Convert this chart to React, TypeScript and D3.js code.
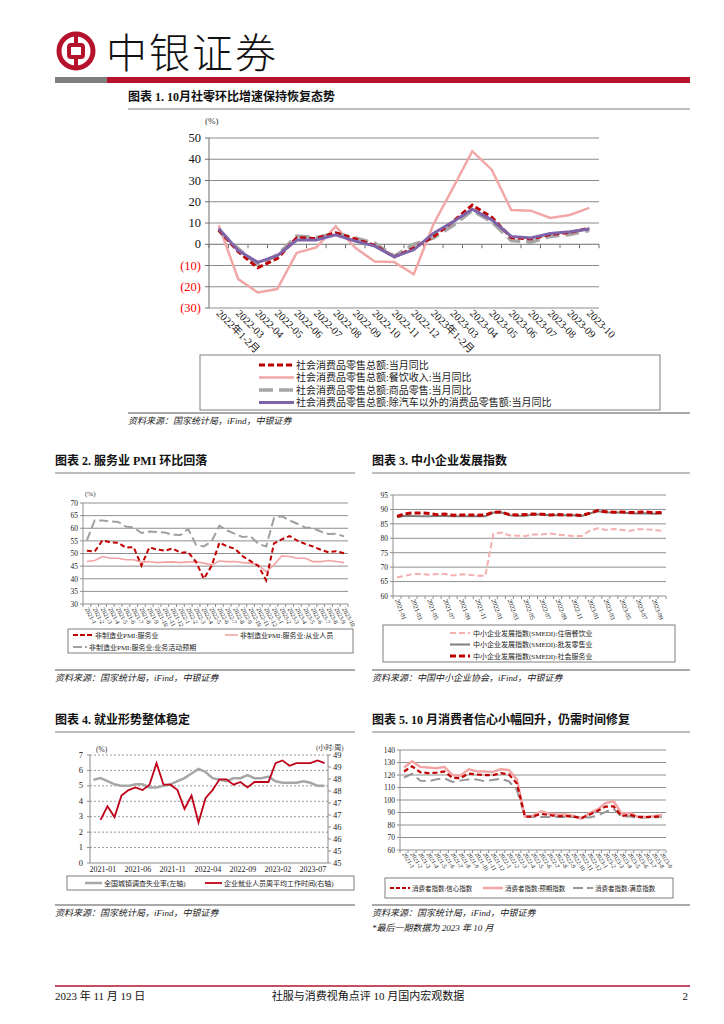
import React from 'react';
import * as d3 from 'd3';

const SERIF = "'Liberation Serif','Noto Sans CJK SC',serif";
const CJK = "'Liberation Serif','Noto Sans CJK SC',serif";
const RED = '#C00000';
const BRAND = '#B5122B';

// ---------- Chart 1 ----------
const c1Cats = ['2022年1-2月', '2022-03', '2022-04', '2022-05', '2022-06', '2022-07', '2022-08', '2022-09', '2022-10', '2022-11', '2022-12', '2023年1-2月', '2023-03', '2023-04', '2023-05', '2023-06', '2023-07', '2023-08', '2023-09', '2023-10'];
const c1Total = [6.7, -3.5, -11.1, -6.7, 3.1, 2.7, 5.4, 2.5, -0.5, -5.9, -1.8, 3.5, 10.6, 18.4, 12.7, 3.1, 2.5, 4.6, 5.5, 7.6];
const c1Catering = [8.9, -16.4, -22.7, -21.1, -4.0, -1.5, 8.4, -1.7, -8.1, -8.4, -14.1, 9.2, 26.3, 43.8, 35.1, 16.1, 15.8, 12.4, 13.8, 17.1];
const c1Goods = [6.5, -2.1, -9.7, -5.0, 3.9, 3.2, 5.1, 3.0, 0.5, -5.6, -0.1, 2.9, 8.7, 15.9, 10.5, 1.7, 1.0, 3.7, 4.6, 6.5];
const c1ExAuto = [7.4, -3.0, -8.5, -5.4, 2.0, 2.0, 4.4, 1.5, -0.9, -5.9, -2.6, 5.1, 10.5, 16.5, 11.5, 3.7, 3.0, 5.1, 5.9, 7.2];
const c1YTicks = [50, 40, 30, 20, 10, 0, -10, -20, -30];
const c1Legend = ['社会消费品零售总额:当月同比', '社会消费品零售总额:餐饮收入:当月同比', '社会消费品零售总额:商品零售:当月同比', '社会消费品零售总额:除汽车以外的消费品零售额:当月同比'];

// ---------- Chart 2 ----------
const c2Months = ['2021-1', '2021-2', '2021-3', '2021-4', '2021-5', '2021-6', '2021-7', '2021-8', '2021-9', '2021-10', '2021-11', '2021-12', '2022-1', '2022-2', '2022-3', '2022-4', '2022-5', '2022-6', '2022-7', '2022-8', '2022-9', '2022-10', '2022-11', '2022-12', '2023-1', '2023-2', '2023-3', '2023-4', '2023-5', '2023-6', '2023-7', '2023-8', '2023-9', '2023-10'];
const c2Services = [51.1, 50.8, 55.2, 54.4, 54.3, 52.3, 52.5, 45.2, 52.4, 51.6, 51.1, 52.0, 50.3, 50.5, 46.7, 40.0, 45.1, 54.3, 52.8, 51.9, 48.9, 47.0, 45.1, 39.4, 54.0, 55.6, 56.9, 55.1, 53.8, 52.8, 51.5, 50.5, 50.9, 50.1];
const c2Employ = [46.8, 47.2, 48.8, 48.1, 48.1, 47.5, 47.5, 46.6, 46.8, 46.4, 46.6, 46.7, 46.4, 46.7, 46.7, 46.2, 45.5, 47.0, 46.8, 46.8, 46.4, 46.2, 45.5, 42.8, 45.5, 49.0, 48.8, 48.1, 48.1, 46.8, 46.8, 47.2, 46.8, 46.4];
const c2Expect = [55.2, 63.1, 63.1, 62.7, 62.5, 60.7, 60.3, 58.1, 58.7, 58.5, 58.3, 57.4, 57.3, 59.7, 53.4, 52.8, 54.8, 61.0, 59.1, 57.8, 56.5, 56.8, 53.8, 52.8, 64.0, 64.7, 63.1, 61.8, 60.3, 60.1, 58.7, 57.7, 57.8, 56.8];
const c2YTicks = [30, 35, 40, 45, 50, 55, 60, 65, 70];

// ---------- Chart 3 ----------
const c3Months = ['2021-01', '2021-02', '2021-03', '2021-04', '2021-05', '2021-06', '2021-07', '2021-08', '2021-09', '2021-10', '2021-11', '2021-12', '2022-01', '2022-02', '2022-03', '2022-04', '2022-05', '2022-06', '2022-07', '2022-08', '2022-09', '2022-10', '2022-11', '2022-12', '2023-01', '2023-02', '2023-03', '2023-04', '2023-05', '2023-06', '2023-07', '2023-08', '2023-09', '2023-10'];
const c3Hotel = [66.5, 67, 67.6, 67.6, 67.4, 67.6, 67.6, 67.1, 67.5, 67.4, 67, 67, 81.5, 82, 81, 80.9, 80.8, 81.3, 81.3, 81.7, 81.3, 81, 80.8, 80.8, 82.6, 83.5, 82.9, 83.2, 82.9, 82.6, 83.1, 83.1, 82.9, 82.6];
const c3Wholesale = [87.3, 87.8, 87.7, 87.6, 87.6, 87.7, 87.7, 87.6, 87.6, 87.6, 87.6, 87.6, 88.9, 89.0, 88.0, 87.8, 87.8, 88.2, 88.2, 88.0, 88.0, 88.0, 88.0, 87.7, 88.6, 89.4, 89.0, 88.9, 88.9, 88.7, 88.6, 88.7, 88.5, 88.6];
const c3Social = [87.6, 88.5, 88.8, 88.8, 88.6, 88.2, 88.4, 88.0, 88.1, 88.1, 88.0, 88.1, 89.0, 89.1, 88.2, 88.1, 88.2, 88.4, 88.3, 88.1, 88.2, 88.1, 88.1, 87.9, 88.7, 89.6, 89.2, 89.0, 89.1, 88.9, 89.0, 89.1, 88.8, 88.9];
const c3YTicks = [60, 65, 70, 75, 80, 85, 90, 95];
const c3Legend = ['中小企业发展指数(SMEDI):住宿餐饮业', '中小企业发展指数(SMEDI):批发零售业', '中小企业发展指数(SMEDI):社会服务业'];

// ---------- Chart 4 ----------
const c4Months = c3Months;
const c4Unemp = [5.4, 5.5, 5.3, 5.1, 5.0, 5.0, 5.1, 5.1, 4.9, 4.9, 5.0, 5.1, 5.3, 5.5, 5.8, 6.1, 5.9, 5.5, 5.4, 5.3, 5.5, 5.5, 5.7, 5.5, 5.5, 5.6, 5.3, 5.2, 5.2, 5.2, 5.3, 5.2, 5.0, 5.0];
const c4Hours: (number | null)[] = [null, 46.6, 47.1, 46.7, 47.5, 47.7, 47.8, 47.7, 47.9, 48.7, 47.9, 47.9, 47.7, 47.0, 47.5, 46.5, 47.4, 47.7, 48.1, 48.1, 47.9, 48.0, 47.8, 48.0, 48.0, 48.0, 48.7, 48.8, 48.6, 48.7, 48.7, 48.7, 48.8, 48.7];
const c4LeftTicks = [0, 1, 2, 3, 4, 5, 6, 7];
const c4XLabels = ['2021-01', '2021-06', '2021-11', '2022-04', '2022-09', '2023-02', '2023-07'];

// ---------- Chart 5 ----------
const c5Months = ['2021-1', '2021-2', '2021-3', '2021-4', '2021-5', '2021-6', '2021-7', '2021-8', '2021-9', '2021-10', '2021-11', '2021-12', '2022-1', '2022-2', '2022-3', '2022-4', '2022-5', '2022-6', '2022-7', '2022-8', '2022-9', '2022-10', '2022-11', '2022-12', '2023-1', '2023-2', '2023-3', '2023-4', '2023-5', '2023-6', '2023-7', '2023-8', '2023-9'];
const c5Confidence = [122.8, 127.0, 122.2, 121.5, 121.8, 122.8, 117.8, 117.5, 121.2, 120.4, 119.9, 119.8, 121.5, 120.5, 113.2, 86.7, 86.8, 88.9, 87.9, 87.0, 87.2, 86.8, 85.5, 88.3, 91.2, 94.7, 94.9, 87.1, 88.2, 86.5, 86.4, 86.5, 87.2];
const c5Expect = [126, 131, 126.5, 126, 125.5, 126.5, 120, 119.5, 124.5, 123, 122.8, 122.5, 124.5, 124, 116.5, 86.5, 87.5, 91, 89, 88.5, 88.5, 87.5, 85, 89.5, 92.5, 97.5, 99, 89, 89.5, 86.5, 86.5, 87, 88];
const c5Satisf = [118, 121, 115.5, 115, 116.5, 117.5, 114.5, 115.5, 116.5, 116.5, 115, 116, 117, 115, 108, 87, 86.5, 86.5, 86.5, 86.5, 86.5, 86.5, 86.5, 86, 87.5, 90.5, 93, 86.5, 87, 85.5, 86, 86, 86.5];
const c5YTicks = [60, 70, 80, 90, 100, 110, 120, 130, 140];

function linePath(cats: string[], vals: (number | null)[], x: d3.ScalePoint<string>, y: d3.ScaleLinear<number, number>) {
  return (
    d3
      .line<number | null>()
      .defined((d) => d != null)
      .x((_, i) => x(cats[i]) as number)
      .y((d) => y(d as number))(vals) || ''
  );
}

function Title({ x, y, x2, text }: { x: number; y: number; x2: number; text: string }) {
  return (
    <g>
      <text x={x} y={y} fontFamily={CJK} fontSize={12} fontWeight={700} fill="#111">{text}</text>
      <line x1={x} x2={x2} y1={y + 8} y2={y + 8} stroke="#7f7f7f" strokeWidth={1} />
    </g>
  );
}

function Source({ x, y, x2, text }: { x: number; y: number; x2: number; text: string }) {
  return (
    <g>
      <line x1={x} x2={x2} y1={y - 11} y2={y - 11} stroke="#8c8c8c" strokeWidth={1.5} />
      <text x={x} y={y} fontFamily={CJK} fontSize={9} fontStyle="italic" fill="#222">{text}</text>
    </g>
  );
}

function Header() {
  const cx = 76, cy = 51;
  return (
    <g>
      <circle cx={cx} cy={cy} r={17} fill="none" stroke={BRAND} strokeWidth={5} />
      <rect x={cx - 7} y={cy - 6} width={14} height={12} rx={2} fill="none" stroke={BRAND} strokeWidth={4} />
      <line x1={cx} x2={cx} y1={cy - 18} y2={cy - 8} stroke={BRAND} strokeWidth={4} />
      <line x1={cx} x2={cx} y1={cy + 8} y2={cy + 18} stroke={BRAND} strokeWidth={4} />
      <text x={106} y={68} fontFamily="'Noto Sans CJK SC',sans-serif" fontWeight={300} fontSize={41} letterSpacing={2} fill="#111">中银证券</text>
      <rect x={55} y={77} width={52} height={6} fill="#7f7f7f" />
      <rect x={107} y={77} width={583} height={6} fill={BRAND} />
    </g>
  );
}

function Chart1() {
  const L = 209, R = 599, T = 138, B = 308;
  const x = d3.scalePoint<string>().domain(c1Cats).range([L, R]).padding(0.5);
  const y = d3.scaleLinear().domain([-30, 50]).range([B, T]);
  const step = x.step();
  const ticksX = d3.range(c1Cats.length + 1).map((i) => L + i * step);
  const legendStyles = [
    { stroke: RED, w: 3, dash: '6 3' },
    { stroke: '#F2A7A7', w: 2.5, dash: '' },
    { stroke: '#A6A6A6', w: 3.5, dash: '14 6' },
    { stroke: '#7F63A9', w: 3, dash: '' },
  ];
  return (
    <g>
      <Title x={128} y={101} x2={690} text="图表 1. 10月社零环比增速保持恢复态势" />
      <text x={205} y={124} fontFamily={SERIF} fontSize={9} fill="#333">(%)</text>
      {c1YTicks.map((t) => (
        <line key={t} x1={L} x2={R} y1={y(t)} y2={y(t)} stroke={t === 0 ? '#6f6f6f' : '#8c8c8c'} strokeWidth={1} />
      ))}
      <line x1={L} x2={L} y1={T} y2={B} stroke="#6f6f6f" strokeWidth={1} />
      {c1YTicks.map((t) => (
        <line key={'t' + t} x1={L - 4} x2={L} y1={y(t)} y2={y(t)} stroke="#6f6f6f" />
      ))}
      {ticksX.map((tx, i) => (
        <line key={'x' + i} x1={tx} x2={tx} y1={y(0)} y2={y(0) + 4} stroke="#6f6f6f" />
      ))}
      {c1YTicks.map((t) => (
        <text key={'l' + t} x={L - 8} y={y(t) + 4} textAnchor="end" fontFamily={SERIF} fontSize={12.5} fill={t < 0 ? '#FF0000' : '#111'}>
          {t < 0 ? `(${-t})` : `${t}`}
        </text>
      ))}
      {c1Cats.map((c) => (
        <text key={c} transform={`translate(${(x(c) as number) - 3},${B + 6}) rotate(45)`} fontFamily={SERIF} fontSize={10.5} fill="#111">{c}</text>
      ))}
      <path d={linePath(c1Cats, c1Catering, x, y)} fill="none" stroke="#F2A7A7" strokeWidth={2.5} />
      <path d={linePath(c1Cats, c1Goods, x, y)} fill="none" stroke="#A6A6A6" strokeWidth={3.5} strokeDasharray="14 6" />
      <path d={linePath(c1Cats, c1Total, x, y)} fill="none" stroke={RED} strokeWidth={3} strokeDasharray="6 3" />
      <path d={linePath(c1Cats, c1ExAuto, x, y)} fill="none" stroke="#7F63A9" strokeWidth={3} />
      <rect x={200} y={355} width={460} height={55} fill="none" stroke="#7f7f7f" strokeWidth={1} />
      {c1Legend.map((t, i) => {
        const ly = 365 + i * 12.5;
        const s = legendStyles[i];
        return (
          <g key={t}>
            <line x1={259} x2={294} y1={ly} y2={ly} stroke={s.stroke} strokeWidth={s.w} strokeDasharray={s.dash} />
            <text x={296} y={ly + 3.5} fontFamily={CJK} fontSize={10} fill="#222">{t}</text>
          </g>
        );
      })}
      <Source x={128} y={424} x2={690} text="资料来源：国家统计局，iFind，中银证券" />
    </g>
  );
}

function SmallAxes({ L, R, T, B, y, ticks, fontSize, labelX }: any) {
  return (
    <g>
      {ticks.map((t: number) => (
        <line key={t} x1={L} x2={R} y1={y(t)} y2={y(t)} stroke="#8f8f8f" strokeWidth={1} />
      ))}
      <line x1={L} x2={L} y1={T} y2={B} stroke="#8f8f8f" />
      {ticks.map((t: number) => (
        <line key={'k' + t} x1={L - 3} x2={L} y1={y(t)} y2={y(t)} stroke="#8f8f8f" />
      ))}
      {ticks.map((t: number) => (
        <text key={'l' + t} x={labelX} y={y(t) + 2.8} textAnchor="end" fontFamily={SERIF} fontSize={fontSize} fill="#222">{t}</text>
      ))}
    </g>
  );
}

function Chart2() {
  const L = 83, R = 348, T = 503, B = 604;
  const x = d3.scalePoint<string>().domain(c2Months).range([L, R]).padding(0.5);
  const y = d3.scaleLinear().domain([30, 70]).range([B, T]);
  const step = x.step();
  return (
    <g>
      <Title x={55} y={465} x2={355} text="图表 2. 服务业 PMI 环比回落" />
      <text x={85} y={496} fontFamily={SERIF} fontSize={7} fill="#333">(%)</text>
      <SmallAxes L={L} R={R} T={T} B={B} y={y} ticks={c2YTicks} fontSize={7.5} labelX={78} />
      {d3.range(c2Months.length + 1).map((i) => (
        <line key={i} x1={L + i * step} x2={L + i * step} y1={B} y2={B + 3} stroke="#8f8f8f" />
      ))}
      {c2Months.map((c) => (
        <text key={c} transform={`translate(${(x(c) as number) - 2},${B + 5}) rotate(62)`} fontFamily={SERIF} fontSize={6.2} fill="#222">{c}</text>
      ))}
      <path d={linePath(c2Months, c2Expect, x, y)} fill="none" stroke="#A0A0A0" strokeWidth={2} strokeDasharray="9 4" />
      <path d={linePath(c2Months, c2Employ, x, y)} fill="none" stroke="#F2A3A3" strokeWidth={1.6} />
      <path d={linePath(c2Months, c2Services, x, y)} fill="none" stroke={RED} strokeWidth={2} strokeDasharray="5 3" />
      <rect x={68} y={629} width={285} height={24} fill="none" stroke="#7f7f7f" />
      <line x1={73} x2={93} y1={635} y2={635} stroke={RED} strokeWidth={2} strokeDasharray="5 2" />
      <text x={95} y={637.5} fontFamily={CJK} fontSize={7} fill="#222">非制造业PMI:服务业</text>
      <line x1={225} x2={238} y1={635} y2={635} stroke="#F2A3A3" strokeWidth={1.6} />
      <text x={240} y={637.5} fontFamily={CJK} fontSize={7} fill="#222">非制造业PMI:服务业:从业人员</text>
      <line x1={73} x2={87} y1={647} y2={647} stroke="#A0A0A0" strokeWidth={2} strokeDasharray="9 3" />
      <text x={89} y={649.5} fontFamily={CJK} fontSize={7} fill="#222">非制造业PMI:服务业:业务活动预期</text>
      <Source x={55} y={681} x2={355} text="资料来源：国家统计局，iFind，中银证券" />
    </g>
  );
}

function Chart3() {
  const L = 393, R = 666, T = 495, B = 596;
  const x = d3.scalePoint<string>().domain(c3Months).range([L, R]).padding(0.5);
  const y = d3.scaleLinear().domain([60, 95]).range([B, T]);
  const step = x.step();
  const styles = [
    { stroke: '#F4AFAF', w: 2, dash: '6 3' },
    { stroke: '#7f7f7f', w: 2, dash: '' },
    { stroke: RED, w: 3, dash: '6 3' },
  ];
  return (
    <g>
      <Title x={372} y={465} x2={690} text="图表 3. 中小企业发展指数" />
      <SmallAxes L={L} R={R} T={T} B={B} y={y} ticks={c3YTicks} fontSize={7.5} labelX={388} />
      {d3.range(c3Months.length + 1).map((i) => (
        <line key={i} x1={L + i * step} x2={L + i * step} y1={B} y2={B + 3} stroke="#8f8f8f" />
      ))}
      {c3Months.filter((_, i) => i % 2 === 0).map((c) => (
        <text key={c} transform={`translate(${(x(c) as number) - 2},${B + 4}) rotate(70)`} fontFamily={SERIF} fontSize={6.5} fill="#222">{c}</text>
      ))}
      <path d={linePath(c3Months, c3Hotel, x, y)} fill="none" stroke="#F4AFAF" strokeWidth={2} strokeDasharray="6 3" />
      <path d={linePath(c3Months, c3Wholesale, x, y)} fill="none" stroke="#7f7f7f" strokeWidth={2} />
      <path d={linePath(c3Months, c3Social, x, y)} fill="none" stroke={RED} strokeWidth={3} strokeDasharray="6 3" />
      <rect x={383} y={625} width={292} height={37} fill="none" stroke="#7f7f7f" />
      {c3Legend.map((t, i) => {
        const ly = 633 + i * 11.5;
        const s = styles[i];
        return (
          <g key={t}>
            <line x1={450} x2={470} y1={ly} y2={ly} stroke={s.stroke} strokeWidth={s.w} strokeDasharray={s.dash} />
            <text x={473} y={ly + 2.5} fontFamily={CJK} fontSize={7} fill="#222">{t}</text>
          </g>
        );
      })}
      <Source x={372} y={681} x2={690} text="资料来源：中国中小企业协会，iFind，中银证券" />
    </g>
  );
}

function Chart4() {
  const L = 90, R = 328, T = 755, B = 863;
  const x = d3.scalePoint<string>().domain(c4Months).range([L, R]).padding(0.5);
  const yL = d3.scaleLinear().domain([0, 7]).range([B, T]);
  const yR = d3.scaleLinear().domain([45, 49]).range([B, T]);
  const rTicks = d3.range(10).map((i) => 45 + (i * 4) / 9);
  const hoursPath =
    d3
      .line<number | null>()
      .defined((d) => d != null)
      .x((_, i) => x(c4Months[i]) as number)
      .y((d) => yR(d as number))(c4Hours) || '';
  return (
    <g>
      <Title x={55} y={724} x2={355} text="图表 4. 就业形势整体稳定" />
      <text x={96} y={752} fontFamily={SERIF} fontSize={7.5} fill="#333">(%)</text>
      <text x={316} y={750} fontFamily={CJK} fontSize={7} fill="#333">(小时/周)</text>
      {c4LeftTicks.filter((t) => t > 0).map((t) => (
        <line key={t} x1={L} x2={R} y1={yL(t)} y2={yL(t)} stroke="#9a9a9a" strokeWidth={1} strokeDasharray="2 2" />
      ))}
      <line x1={L} x2={L} y1={T} y2={B} stroke="#8a8a8a" />
      <line x1={R} x2={R} y1={T} y2={B} stroke="#8a8a8a" />
      <line x1={L} x2={R} y1={B} y2={B} stroke="#8a8a8a" />
      {c4LeftTicks.map((t) => (
        <g key={'l' + t}>
          <line x1={L - 3} x2={L} y1={yL(t)} y2={yL(t)} stroke="#8a8a8a" />
          <text x={L - 7} y={yL(t) + 2.5} textAnchor="end" fontFamily={SERIF} fontSize={8.5} fill="#222">{t}</text>
        </g>
      ))}
      {rTicks.map((t, i) => (
        <g key={'r' + i}>
          <line x1={R} x2={R + 3} y1={yR(t)} y2={yR(t)} stroke="#8a8a8a" />
          <text x={R + 5} y={yR(t) + 3} fontFamily={SERIF} fontSize={8.5} fill="#222">{d3.format('.0f')(t)}</text>
        </g>
      ))}
      {c4XLabels.map((c) => (
        <text key={c} x={(x(c) as number) - 4} y={B + 9} fontFamily={SERIF} fontSize={8} fill="#222">{c}</text>
      ))}
      <path d={linePath(c4Months, c4Unemp, x, yL)} fill="none" stroke="#A6A6A6" strokeWidth={2.5} />
      <path d={hoursPath} fill="none" stroke="#C00018" strokeWidth={1.8} />
      <rect x={67} y={876} width={287} height={14} fill="none" stroke="#7f7f7f" />
      <line x1={85} x2={102} y1={883} y2={883} stroke="#A6A6A6" strokeWidth={2.5} />
      <text x={104} y={885.5} fontFamily={CJK} fontSize={7} fill="#222">全国城镇调查失业率(左轴)</text>
      <line x1={205} x2={222} y1={883} y2={883} stroke="#C00018" strokeWidth={1.8} />
      <text x={224} y={885.5} fontFamily={CJK} fontSize={7} fill="#222">企业就业人员周平均工作时间(右轴)</text>
      <Source x={55} y={916} x2={355} text="资料来源：国家统计局，iFind，中银证券" />
    </g>
  );
}

function Chart5() {
  const L = 400, R = 666, T = 750, B = 850;
  const x = d3.scalePoint<string>().domain(c5Months).range([L, R]).padding(0.5);
  const y = d3.scaleLinear().domain([60, 140]).range([B, T]);
  const step = x.step();
  return (
    <g>
      <Title x={372} y={724} x2={690} text="图表 5. 10 月消费者信心小幅回升，仍需时间修复" />
      <SmallAxes L={L} R={R} T={T} B={B} y={y} ticks={c5YTicks} fontSize={7.5} labelX={395} />
      {d3.range(c5Months.length + 1).map((i) => (
        <line key={i} x1={L + i * step} x2={L + i * step} y1={B} y2={B + 3} stroke="#8f8f8f" />
      ))}
      {c5Months.map((c) => (
        <text key={c} transform={`translate(${(x(c) as number) - 2},${B + 4}) rotate(58)`} fontFamily={SERIF} fontSize={6.2} fill="#222">{c}</text>
      ))}
      <path d={linePath(c5Months, c5Satisf, x, y)} fill="none" stroke="#959595" strokeWidth={2} strokeDasharray="10 5" />
      <path d={linePath(c5Months, c5Expect, x, y)} fill="none" stroke="#F2A5A5" strokeWidth={2.5} />
      <path d={linePath(c5Months, c5Confidence, x, y)} fill="none" stroke={RED} strokeWidth={2.2} strokeDasharray="5 3" />
      <rect x={385} y={878} width={288} height={20} fill="none" stroke="#7f7f7f" />
      <line x1={390} x2={410} y1={888} y2={888} stroke={RED} strokeWidth={2.2} strokeDasharray="4 2" />
      <text x={412} y={890.5} fontFamily={CJK} fontSize={6.5} fill="#222">消费者指数:信心指数</text>
      <line x1={483} x2={503} y1={888} y2={888} stroke="#F2A5A5" strokeWidth={2.5} />
      <text x={505} y={890.5} fontFamily={CJK} fontSize={6.5} fill="#222">消费者指数:预期指数</text>
      <line x1={573} x2={593} y1={888} y2={888} stroke="#959595" strokeWidth={2} strokeDasharray="10 4" />
      <text x={595} y={890.5} fontFamily={CJK} fontSize={6.5} fill="#222">消费者指数:满意指数</text>
      <Source x={372} y={916} x2={690} text="资料来源：国家统计局，iFind，中银证券" />
      <text x={372} y={931} fontFamily={CJK} fontSize={9} fontStyle="italic" fill="#222">*最后一期数据为 2023 年 10 月</text>
    </g>
  );
}

function Footer() {
  return (
    <g>
      <line x1={55} x2={690} y1={986} y2={986} stroke={BRAND} strokeWidth={1.5} />
      <text x={55} y={1000} fontFamily={CJK} fontSize={11} fill="#111">2023 年 11 月 19 日</text>
      <text x={368} y={1000} textAnchor="middle" fontFamily={CJK} fontSize={11} fill="#111">社服与消费视角点评 10 月国内宏观数据</text>
      <text x={688} y={1000} textAnchor="end" fontFamily={SERIF} fontSize={11} fill="#111">2</text>
    </g>
  );
}

export default function App() {
  return (
    <svg width={724} height={1024} viewBox="0 0 724 1024" style={{ position: 'absolute', left: 0, top: 0, background: '#fff' }}>
      <rect width={724} height={1024} fill="#fff" />
      <Header />
      <Chart1 />
      <Chart2 />
      <Chart3 />
      <Chart4 />
      <Chart5 />
      <Footer />
    </svg>
  );
}
